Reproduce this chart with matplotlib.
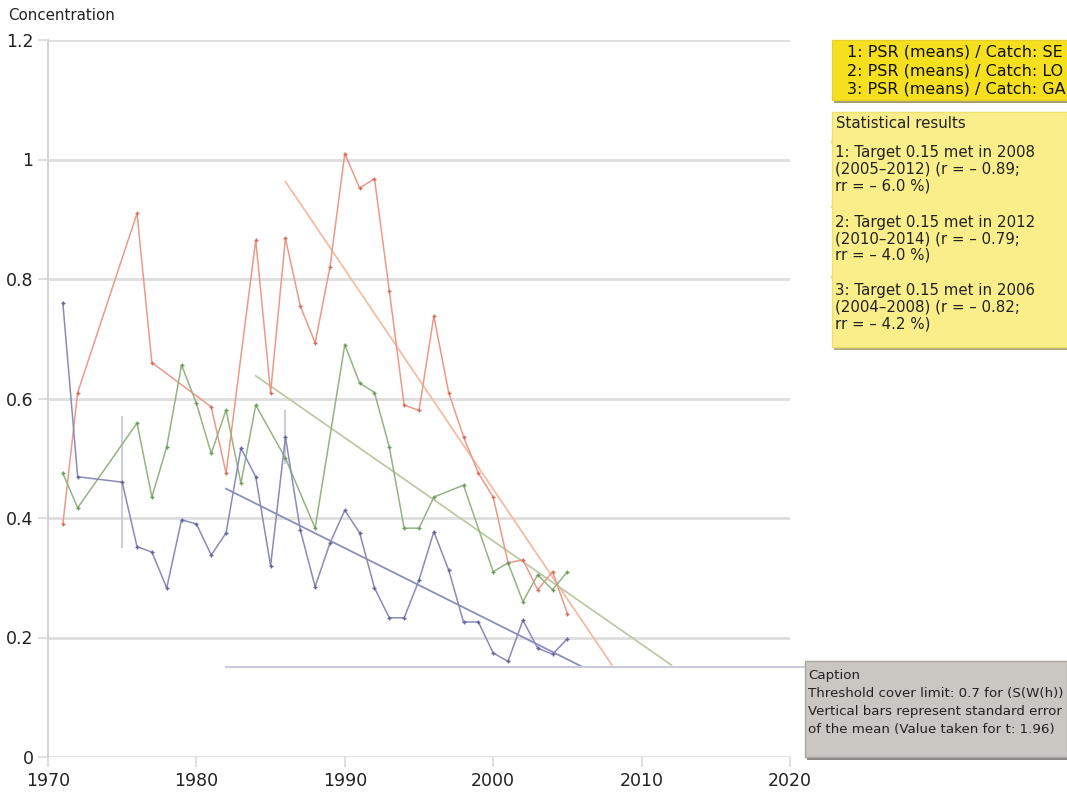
import matplotlib.pyplot as plt
from matplotlib.patches import Rectangle

# Series 1: PSR (means) / Catch: SE
years_se = [1971, 1972, 1976, 1977, 1981, 1982, 1984, 1985, 1986, 1987, 1988, 1989,
            1990, 1991, 1992, 1993, 1994, 1995, 1996, 1997, 1998, 1999, 2000, 2001,
            2002, 2003, 2004, 2005]
conc_se = [0.39, 0.61, 0.91, 0.66, 0.586, 0.475, 0.865, 0.61, 0.868, 0.755, 0.693, 0.82,
           1.01, 0.952, 0.968, 0.78, 0.589, 0.58, 0.738, 0.61, 0.536, 0.475, 0.435, 0.325,
           0.33, 0.28, 0.31, 0.24]

# Series 2: PSR (means) / Catch: LO
years_lo = [1971, 1972, 1976, 1977, 1978, 1979, 1980, 1981, 1982, 1983, 1984, 1986,
            1988, 1990, 1991, 1992, 1993, 1994, 1995, 1996, 1998, 2000, 2001, 2002,
            2003, 2004, 2005]
conc_lo = [0.475, 0.417, 0.559, 0.435, 0.519, 0.656, 0.592, 0.508, 0.581, 0.458, 0.589, 0.50,
           0.383, 0.69, 0.626, 0.61, 0.519, 0.383, 0.383, 0.435, 0.455, 0.31, 0.325, 0.26,
           0.305, 0.28, 0.31]

# Series 3: PSR (means) / Catch: GA
years_ga = [1971, 1972, 1975, 1976, 1977, 1978, 1979, 1980, 1981, 1982, 1983, 1984,
            1985, 1986, 1987, 1988, 1989, 1990, 1991, 1992, 1993, 1994, 1995, 1996,
            1997, 1998, 1999, 2000, 2001, 2002, 2003, 2004, 2005]
conc_ga = [0.76, 0.469, 0.46, 0.352, 0.343, 0.283, 0.397, 0.39, 0.338, 0.375, 0.517, 0.469,
           0.32, 0.536, 0.38, 0.285, 0.358, 0.413, 0.375, 0.283, 0.233, 0.233, 0.296, 0.377,
           0.313, 0.226, 0.226, 0.174, 0.16, 0.229, 0.182, 0.172, 0.198]

# error bars (year, mean, half-width)
err_years = [1975, 1986]
err_means = [0.46, 0.536]
err_half = [0.11, 0.045]

# trend lines: start/end year and value
trend_se = ([1986, 2008], [0.963, 0.154])
trend_lo = ([1984, 2012], [0.638, 0.154])
trend_ga = ([1982, 2006], [0.449, 0.151])

target = 0.15
target_years = [1982, 2022]

legend_labels = ['1: PSR (means) / Catch: SE',
                 '2: PSR (means) / Catch: LO',
                 '3: PSR (means) / Catch: GA']
stats_lines = [['1: Target 0.15 met in 2008', '(2005\u20132012) (r = \u2013 0.89;', 'rr = \u2013 6.0 %)'],
               ['2: Target 0.15 met in 2012', '(2010\u20132014) (r = \u2013 0.79;', 'rr = \u2013 4.0 %)'],
               ['3: Target 0.15 met in 2006', '(2004\u20132008) (r = \u2013 0.82;', 'rr = \u2013 4.2 %)']]
caption_lines = ['Caption', 'Threshold cover limit: 0.7 for (S(W(h))',
                 'Vertical bars represent standard error', 'of the mean (Value taken for t: 1.96)']

W, H = 1067, 795
fig = plt.figure(figsize=(W / 100, H / 100), dpi=100)
ax = fig.add_axes([48 / W, 1 - 757 / H, (790 - 48) / W, (757 - 40) / H])

c_se, c_lo, c_ga = '#eb9a88', '#94b482', '#8a8abb'

ax.plot(years_se, conc_se, color=c_se, lw=1.1, marker='+', ms=3, mec='#d07060', zorder=3)
ax.plot(years_lo, conc_lo, color=c_lo, lw=1.1, marker='+', ms=3, mec='#6f9a5d', zorder=3)
ax.plot(years_ga, conc_ga, color=c_ga, lw=1.1, marker='+', ms=3, mec='#65659a', zorder=3)

ax.plot(*trend_se, color='#f4bca4', lw=1.3, zorder=2)
ax.plot(*trend_lo, color='#bccaa4', lw=1.3, zorder=2)
ax.plot(*trend_ga, color='#8e8ebc', lw=1.3, zorder=2)

ax.vlines(err_years, [m - e for m, e in zip(err_means, err_half)],
          [m + e for m, e in zip(err_means, err_half)], color='#c4c4d8', lw=1.2, zorder=2)

ax.plot(target_years, [target, target], color='#c8ccda', lw=1.5, zorder=2, clip_on=False)

ax.set_xlim(1970, 2020)
ax.set_ylim(0, 1.2)
ax.set_xticks([1970, 1980, 1990, 2000, 2010, 2020])
ax.set_yticks([0, 0.2, 0.4, 0.6, 0.8, 1.0, 1.2])
ax.set_yticklabels(['0', '0.2', '0.4', '0.6', '0.8', '1', '1.2'])
ax.grid(axis='y', color='#dedede', lw=2)
ax.set_axisbelow(True)
for s in ['top', 'right', 'bottom']:
    ax.spines[s].set_visible(False)
ax.spines['left'].set_color('#d4d4d4')
ax.spines['left'].set_linewidth(1.5)
ax.tick_params(axis='both', labelsize=12.5, colors='#e0e0e0', labelcolor='#222222', length=7, width=1.5)
ax.tick_params(axis='x', pad=4)

fig.text(8 / W, 1 - 16 / H, 'Concentration', fontsize=10.8, va='center', ha='left', color='#222222')

# legend box
fig.patches.append(Rectangle((834 / W, 1 - 103 / H), (W - 834) / W, 63 / H, transform=fig.transFigure,
                             facecolor='#a09a70', edgecolor='none', zorder=1))
fig.patches.append(Rectangle((832 / W, 1 - 100 / H), (W - 832) / W, 60 / H, transform=fig.transFigure,
                             facecolor='#f6df1c', edgecolor='#e8d030', lw=1, zorder=2))
for i, (lab, col) in enumerate(zip(legend_labels, ['#e0a020', '#b8b040', '#b0a040'])):
    y = 1 - (52 + i * 18.5) / H
    fig.add_artist(plt.Line2D([835 / W, 845 / W], [y, y], color=col, lw=1.5, transform=fig.transFigure))
    fig.text(847 / W, y, lab, fontsize=11.5, va='center', ha='left', color='#111111')

# statistical results box
fig.patches.append(Rectangle((834 / W, 1 - 350 / H), (W - 834) / W, 238 / H, transform=fig.transFigure,
                             facecolor='#b0aa80', edgecolor='none', zorder=1))
fig.patches.append(Rectangle((832 / W, 1 - 347 / H), (W - 832) / W, 235 / H, transform=fig.transFigure,
                             facecolor='#faee8a', edgecolor='#efe070', lw=1, zorder=2))
fig.text(836 / W, 1 - 124 / H, 'Statistical results', fontsize=10.8, va='center', ha='left', color='#222222')
for ysep in [142, 207, 277]:
    fig.add_artist(plt.Line2D([832 / W, 1], [1 - ysep / H] * 2, color='#e2d470', lw=1.5,
                              transform=fig.transFigure))
for block, y0 in zip(stats_lines, [153, 222, 291]):
    for j, line in enumerate(block):
        fig.text(835 / W, 1 - (y0 + j * 16.5) / H, line, fontsize=10.8, va='center', ha='left',
                 color='#222222')

# caption box
fig.patches.append(Rectangle((807 / W, 1 - 760 / H), (W - 807) / W, 97 / H, transform=fig.transFigure,
                             facecolor='#8a8884', edgecolor='none', zorder=1))
fig.patches.append(Rectangle((805 / W, 1 - 757 / H), (W - 805) / W, 96 / H, transform=fig.transFigure,
                             facecolor='#cac7c2', edgecolor='#a8a6a2', lw=1, zorder=2))
for j, line in enumerate(caption_lines):
    fig.text(808 / W, 1 - (676 + j * 18) / H, line, fontsize=9.6, va='center', ha='left', color='#222222')

fig.savefig('out.png', dpi=100)
